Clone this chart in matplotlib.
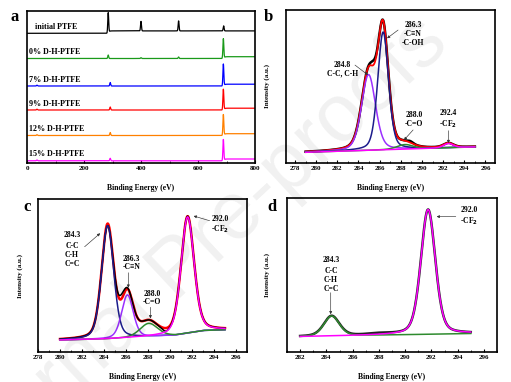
import numpy as np
import matplotlib.pyplot as plt
from matplotlib.ticker import MultipleLocator

plt.rcParams['font.family'] = ['Liberation Serif', 'DejaVu Serif']
plt.rcParams['font.weight'] = 'bold'

# ---- panel a: survey spectra ----
survey_names = ['initial PTFE', '0% D-H-PTFE', '7% D-H-PTFE', '9% D-H-PTFE',
                '12% D-H-PTFE', '15% D-H-PTFE']
survey_colors = ['black', '#1a9a1a', '#0000ff', '#ff0000', '#ff8000', '#ff00ff']
survey_offsets = [129.7, 104.5, 77.0, 53.0, 27.5, 2.2]
survey_centers = [[285, 400, 532, 690], [285, 400, 532, 689], [35, 292, 689],
                  [35, 292, 689], [35, 292, 689], [35, 292, 689]]
survey_heights = [[20, 9.5, 10, 5], [3.5, 0.8, 1.5, 19.5], [0.8, 3.5, 21.7],
                  [0.8, 3.0, 20.5], [0.8, 3.0, 20.7], [0.8, 2.5, 21.0]]
survey_step_at = [287, 692, 692, 692, 692, 692]
survey_step = [2.4, 1.8, 1.8, 1.8, 1.8, 1.8]

# ---- panel b: C1s of D-H (fit components) ----
b_bg_x = [279, 295]
b_bg_y = [0.07, 0.105]
b_centers = [284.95, 286.33, 288.4, 292.5]
b_heights = [0.495, 0.77, 0.03, 0.028]
b_fwhm = [1.55, 1.2, 1.8, 1.1]
b_colors = ['#9b30ff', '#1c1c8c', '#2e8b2e', '#ff00ff']
b_resid_c = [285.4, 288.9]
b_resid_h = [0.03, 0.01]

# ---- panel c ----
c_bg_x = [280, 284, 288, 290.5, 293, 295]
c_bg_y = [0.078, 0.085, 0.10, 0.11, 0.14, 0.145]
c_centers = [284.33, 286.13, 288.07, 291.6]
c_heights = [0.74, 0.28, 0.087, 0.76]
c_fwhm = [1.3, 1.25, 1.9, 1.4]
c_colors = ['#1c1c8c', '#9b30ff', '#2e8b2e', '#ff00ff']
c_resid_c = [285.6, 289.6, 284.33]
c_resid_h = [0.03, -0.02, -0.015]

# ---- panel d ----
d_bg_x = [282, 295]
d_bg_y = [0.10, 0.12]
d_centers = [284.4, 291.75]
d_heights = [0.13, 0.81]
d_fwhm = [1.4, 1.3]
d_colors = ['#2e8b2e', '#ff00ff']
d_resid_c = [288.0]
d_resid_h = [0.008]


def voigt(x, c, h, fwhm, eta=0.3):
    s = fwhm / 2.3548
    g = np.exp(-0.5 * ((x - c) / s) ** 2)
    l = 1.0 / (1.0 + ((x - c) / (fwhm / 2)) ** 2)
    return h * ((1 - eta) * g + eta * l)


fig = plt.figure(figsize=(5.11, 3.82), dpi=100)
W, H = 511, 382


def axes_px(l, t, r, b):
    return fig.add_axes([l / W, 1 - b / H, (r - l) / W, (b - t) / H])


def style(ax, major, minor):
    ax.xaxis.set_major_locator(MultipleLocator(major))
    ax.xaxis.set_minor_locator(MultipleLocator(minor))
    ax.tick_params(axis='x', which='major', direction='in', length=2.5, width=0.8,
                   labelsize=5, pad=2)
    ax.tick_params(axis='x', which='minor', direction='in', length=1.5, width=0.6)
    ax.set_yticks([])
    for sp in ax.spines.values():
        sp.set_linewidth(1.2)
    for t in ax.get_xticklabels():
        t.set_fontweight('bold')
    ax.set_xlabel('Binding Energy (eV)', fontsize=5.5, fontweight='bold')
    ax.xaxis.set_label_coords(0.5, -0.135)


def arrow(ax, start, tip):
    ax.annotate('', xy=tip, xytext=start,
                arrowprops=dict(arrowstyle='-|>', lw=0.45, color='#333333',
                                mutation_scale=4, shrinkA=0, shrinkB=0))


def note(ax, x, y, s, size=5.5):
    ax.text(x, y, s, ha='center', va='center', fontsize=size, fontweight='bold',
            linespacing=1.15)


# panel a
ax = axes_px(27, 11, 255, 163)
x = np.arange(0, 800.5, 0.5)
for name, col, off, cs, hs, sa, st in zip(survey_names, survey_colors, survey_offsets,
                                         survey_centers, survey_heights,
                                         survey_step_at, survey_step):
    y = off + st / (1 + np.exp(-(x - sa) / 2.0))
    for c, h in zip(cs, hs):
        y = y + h * np.exp(-0.5 * ((x - c) / 1.6) ** 2)
    ax.plot(x, y, color=col, lw=0.9)
    lx = 28 if name == 'initial PTFE' else 7
    ax.text(lx, off + 6.5, name, fontsize=5.8, fontweight='bold', va='center')
ax.set_xlim(0, 800)
ax.set_ylim(0, 152)
style(ax, 200, 100)

# panel b
ax = axes_px(286, 10, 495, 163)
x = np.linspace(279, 295, 800)
bg = np.interp(x, b_bg_x, b_bg_y)
env = bg + sum(voigt(x, c, h, w) for c, h, w in zip(b_centers, b_heights, b_fwhm))
raw = env + sum(voigt(x, c, h, 0.6) for c, h in zip(b_resid_c, b_resid_h))
ax.plot(x, raw, color='black', lw=1.8)
ax.plot(x, env, color='#ff0000', lw=1.3)
for c, h, w, col in zip(b_centers, b_heights, b_fwhm, b_colors):
    ax.plot(x, bg + voigt(x, c, h, w), color=col, lw=1.1)
ax.set_xlim(277.15, 296.9)
ax.set_ylim(0, 1)
style(ax, 2, 1)
ax.set_ylabel('Intensity (a.u.)', fontsize=5, fontweight='bold')
ax.yaxis.set_label_coords(-0.077, 0.5)
note(ax, 282.45, 0.613, '284.8\nC-C, C-H')
arrow(ax, (283.67, 0.64), (284.9, 0.575))
note(ax, 289.14, 0.843, '286.3\n-C\u2261N\n-C-OH')
arrow(ax, (287.74, 0.869), (286.7, 0.815))
note(ax, 289.23, 0.283, '288.0\n-C=O')
arrow(ax, (289.16, 0.216), (288.3, 0.15))
note(ax, 292.44, 0.283, '292.4\n-CF$_\\mathbf{2}$')
arrow(ax, (292.5, 0.211), (292.5, 0.13))

# panel c
ax = axes_px(38, 199, 247, 352)
x = np.linspace(280, 295, 800)
bg = np.interp(x, c_bg_x, c_bg_y)
env = bg + sum(voigt(x, c, h, w) for c, h, w in zip(c_centers, c_heights, c_fwhm))
raw = env + sum(voigt(x, c, h, 0.7) for c, h in zip(c_resid_c, c_resid_h))
ax.plot(x, env, color='#ff0000', lw=1.8)
ax.plot(x, raw, color='black', lw=1.1)
for c, h, w, col in zip(c_centers, c_heights, c_fwhm, c_colors):
    ax.plot(x, bg + voigt(x, c, h, w), color=col, lw=1.1)
ax.set_xlim(278, 297)
ax.set_ylim(0, 1)
style(ax, 2, 1)
ax.set_ylabel('Intensity (a.u.)', fontsize=5, fontweight='bold')
ax.yaxis.set_label_coords(-0.072, 0.5)
note(ax, 281.08, 0.766, '284.3')
note(ax, 281.08, 0.636, 'C-C\nC-H\nC=C')
arrow(ax, (282.24, 0.688), (283.65, 0.776))
note(ax, 286.5, 0.582, '286.3\n-C\u2261N')
arrow(ax, (286.21, 0.518), (286.21, 0.42))
note(ax, 288.39, 0.353, '288.0\n-C=O')
arrow(ax, (288.22, 0.292), (288.22, 0.22))
note(ax, 294.57, 0.831, '292.0\n-CF$_\\mathbf{2}$')
arrow(ax, (293.6, 0.858), (292.15, 0.889))

# panel d
ax = axes_px(287, 198, 497, 352)
x = np.linspace(282, 295, 800)
bg = np.interp(x, d_bg_x, d_bg_y)
env = bg + sum(voigt(x, c, h, w) for c, h, w in zip(d_centers, d_heights, d_fwhm))
raw = env + sum(voigt(x, c, h, 2.0) for c, h in zip(d_resid_c, d_resid_h))
ax.plot(x, raw, color='#222222', lw=1.8)
for c, h, w, col in zip(d_centers, d_heights, d_fwhm, d_colors):
    ax.plot(x, bg + voigt(x, c, h, w), color=col, lw=1.1)
ax.set_xlim(281, 297)
ax.set_ylim(0, 1)
style(ax, 2, 1)
ax.set_ylabel('Intensity (a.u.)', fontsize=5, fontweight='bold')
ax.yaxis.set_label_coords(-0.081, 0.5)
note(ax, 294.88, 0.879, '292.0\n-CF$_\\mathbf{2}$')
arrow(ax, (293.86, 0.879), (292.4, 0.879))
note(ax, 284.35, 0.599, '284.3')
note(ax, 284.35, 0.469, 'C-C\nC-H\nC=C')
arrow(ax, (284.33, 0.385), (284.33, 0.245))

# panel letters
for lbl, px, py in [('a', 15, 17), ('b', 268, 17), ('c', 27, 207), ('d', 272, 207)]:
    fig.text(px / W, 1 - py / H, lbl, fontsize=12, fontweight='bold',
             ha='center', va='center')

# watermark
fig.text(0.38, 0.33, 'Journal Pre-proofs', fontsize=58, color='#000000', alpha=0.06,
         rotation=43, ha='center', va='center', rotation_mode='anchor',
         family=['Liberation Sans', 'DejaVu Sans'], fontweight='normal')

fig.savefig('out.png', dpi=100)
